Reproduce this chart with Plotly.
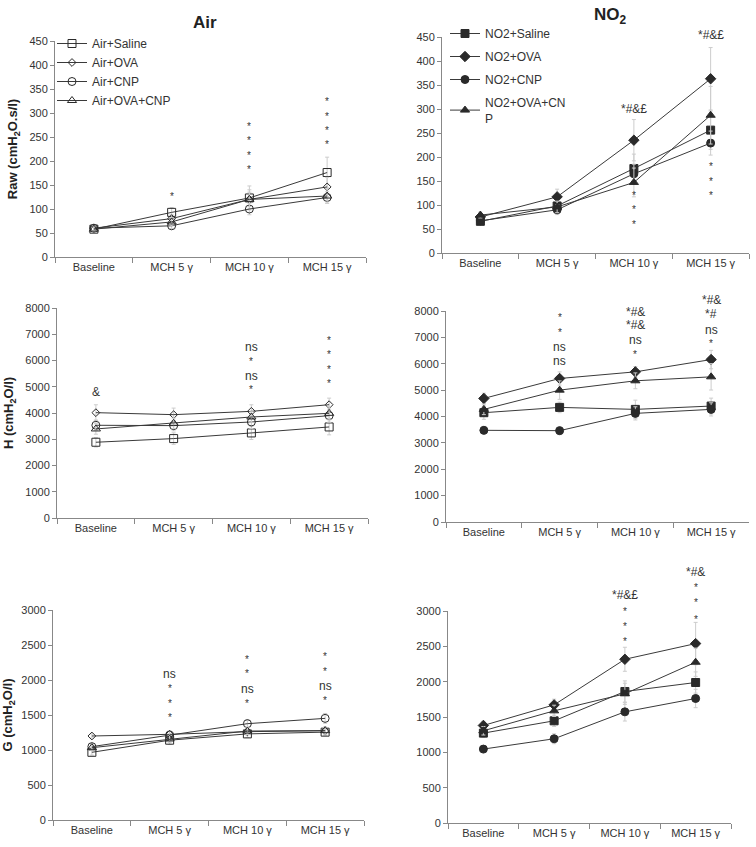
import plotly.graph_objects as go

categories = ["Baseline", "MCH 5 γ", "MCH 10 γ", "MCH 15 γ"]

air_names = ["Air+Saline", "Air+OVA", "Air+CNP", "Air+OVA+CNP"]
no2_names = ["NO2+Saline", "NO2+OVA", "NO2+CNP", "NO2+OVA+CN<br>P"]

# Raw (cmH2O.s/l)
raw_air = [
    [58, 93, 123, 176],
    [60, 80, 120, 146],
    [60, 65, 100, 124],
    [58, 73, 120, 127],
]
raw_air_err = [
    [5, 10, 25, 32],
    [5, 8, 20, 20],
    [5, 6, 12, 12],
    [5, 8, 15, 15],
]
raw_no2 = [
    [66, 98, 176, 256],
    [75, 117, 235, 363],
    [67, 90, 165, 229],
    [79, 96, 147, 287],
]
raw_no2_err = [
    [5, 10, 30, 40],
    [6, 16, 43, 65],
    [5, 10, 20, 25],
    [6, 12, 30, 60],
]

# H (cmH2O/l)
h_air = [
    [2886, 3025, 3240, 3468],
    [4013, 3937, 4063, 4316],
    [3532, 3519, 3658, 3899],
    [3392, 3608, 3848, 3987],
]
h_air_err = [
    [180, 220, 250, 300],
    [300, 250, 250, 250],
    [200, 200, 250, 250],
    [200, 200, 200, 250],
]
h_no2 = [
    [4144, 4345, 4270, 4396],
    [4685, 5441, 5693, 6159],
    [3476, 3463, 4118, 4270],
    [4270, 5000, 5353, 5504],
]
h_no2_err = [
    [250, 200, 350, 300],
    [200, 250, 200, 350],
    [150, 150, 250, 250],
    [200, 350, 300, 500],
]

# G (cmH2O/l)
g_air = [
    [967, 1140, 1230, 1255],
    [1200, 1224, 1262, 1276],
    [1048, 1214, 1376, 1452],
    [1033, 1157, 1271, 1276],
]
g_air_err = [
    [40, 60, 50, 50],
    [30, 50, 50, 50],
    [40, 50, 60, 70],
    [40, 50, 50, 50],
]
g_no2 = [
    [1272, 1446, 1861, 1988],
    [1380, 1672, 2317, 2539],
    [1046, 1192, 1573, 1762],
    [1305, 1587, 1828, 2275],
]
g_no2_err = [
    [60, 80, 150, 150],
    [60, 80, 170, 300],
    [50, 70, 130, 130],
    [60, 80, 150, 200],
]

# significance labels: (category index, y value, label)
raw_air_sig = [(1, 132, "*"), (2, 278, "*"), (2, 248, "*"), (2, 218, "*"), (2, 188, "*"),
               (3, 330, "*"), (3, 300, "*"), (3, 270, "*"), (3, 240, "*")]
raw_no2_sig = [(2, 299, "*#&£"), (2, 126, "*"), (2, 96, "*"), (2, 66, "*"),
               (3, 455, "*#&£"), (3, 187, "*"), (3, 155, "*"), (3, 126, "*")]
h_air_sig = [(0, 4810, "&"), (2, 6519, "ns"), (2, 6076, "*"), (2, 5405, "ns"), (2, 5000, "*"),
             (3, 6873, "*"), (3, 6329, "*"), (3, 5785, "*"), (3, 5253, "*")]
h_no2_sig = [(1, 7860, "*"), (1, 7292, "*"), (1, 6637, "ns"), (1, 6108, "ns"),
             (2, 7962, "*#&"), (2, 7458, "*#&"), (2, 6889, "ns"), (2, 6448, "*"),
             (3, 8428, "*#&"), (3, 7899, "*#"), (3, 7292, "ns"), (3, 6889, "*")]
g_air_sig = [(1, 2081, "ns"), (1, 1919, "*"), (1, 1714, "*"), (1, 1514, "*"),
             (2, 2333, "*"), (2, 2129, "*"), (2, 1871, "ns"), (2, 1705, "*"),
             (3, 2376, "*"), (3, 2167, "*"), (3, 1914, "ns"), (3, 1752, "*")]
g_no2_sig = [(2, 3227, "*#&£"), (2, 3038, "*"), (2, 2826, "*"), (2, 2614, "*"),
             (3, 3556, "*#&"), (3, 3368, "*"), (3, 3156, "*"), (3, 2929, "*")]

air_symbols = ["square-open", "diamond-open", "circle-open", "triangle-up-open"]
air_sizes = [8, 6, 8, 8]
no2_symbols = ["square", "diamond", "circle", "triangle-up"]
no2_sizes = [8, 8, 8, 8]

W, H = 756, 847
def dx(a, b):
    return [a / W, b / W]
def dy(top, bottom):
    return [1 - bottom / H, 1 - top / H]

FONT = "Liberation Sans, Arial, sans-serif"

panels = [
    ("", raw_air, raw_air_err, raw_air_sig, air_names, air_symbols, air_sizes, dx(55, 366), dy(41, 257), [0, 450], 50, "Raw (cmH<sub>2</sub>O.s/l)", "legend"),
    ("2", raw_no2, raw_no2_err, raw_no2_sig, no2_names, no2_symbols, no2_sizes, dx(442, 749), dy(37, 253), [0, 450], 50, None, "legend2"),
    ("3", h_air, h_air_err, h_air_sig, air_names, air_symbols, air_sizes, dx(57, 368), dy(308, 518), [0, 8000], 1000, "H (cmH<sub>2</sub>O/l)", None),
    ("4", h_no2, h_no2_err, h_no2_sig, no2_names, no2_symbols, no2_sizes, dx(446, 749), dy(311, 522), [0, 8000], 1000, None, None),
    ("5", g_air, g_air_err, g_air_sig, air_names, air_symbols, air_sizes, dx(53, 364), dy(610, 820), [0, 3000], 500, "G (cmH<sub>2</sub>O/l)", None),
    ("6", g_no2, g_no2_err, g_no2_sig, no2_names, no2_symbols, no2_sizes, dx(448, 731), dy(611, 823), [0, 3000], 500, None, None),
]

fig = go.Figure()
layout = {}
annotations = []
axis_color = "#888888"
tick_font = dict(family=FONT, size=11, color="#333333")

for pid, data, err, sig, names, symbols, sizes, xdom, ydom, yrange, dtick, ytitle, leg in panels:
    xa = "x" + pid
    ya = "y" + pid
    for i in range(4):
        tr = dict(
            x=categories, y=data[i], xaxis=xa, yaxis=ya,
            mode="lines+markers", name=names[i],
            line=dict(color="#3a3a3a", width=1),
            marker=dict(symbol=symbols[i], size=sizes[i], color="#2a2a2a",
                        line=dict(color="#2a2a2a", width=1)),
            error_y=dict(type="data", array=err[i], arrayminus=err[i], color="#cccccc",
                         thickness=1, width=2),
            showlegend=leg is not None, legendgroup=names[i] + pid,
        )
        if leg is not None:
            tr["legend"] = leg
        fig.add_trace(go.Scatter(**tr))
    for ci, yv, label in sig:
        star = set(label) == {"*"}
        annotations.append(dict(
            x=categories[ci], y=yv / yrange[1], xref=xa, yref=ya + " domain", text=label,
            showarrow=False, xanchor="center", yanchor="middle", yshift=-3 if star else 0,
            font=dict(family=FONT, size=10 if star else 12, color="#333333"),
        ))
    layout["xaxis" + pid] = dict(
        domain=xdom, anchor=ya, type="category", categoryarray=categories, categoryorder="array",
        range=[-0.5, 3.5], tickson="boundaries", ticks="outside", ticklen=5, tickcolor=axis_color,
        showline=True, linecolor=axis_color, linewidth=1, showgrid=False, zeroline=False,
        tickfont=tick_font, fixedrange=True, automargin=False,
    )
    ydict = dict(
        domain=ydom, anchor=xa, range=yrange, dtick=dtick, ticks="outside", ticklen=4,
        tickcolor=axis_color, showline=True, linecolor=axis_color, linewidth=1,
        showgrid=False, zeroline=False, tickfont=tick_font, fixedrange=True, automargin=False,
    )
    if ytitle:
        ydict["title"] = dict(text="<b>" + ytitle + "</b>", standoff=8,
                              font=dict(family=FONT, size=13, color="#222222"))
    layout["yaxis" + pid] = ydict

legend_font = dict(family=FONT, size=12, color="#333333")
layout["legend"] = dict(x=52 / W, y=1 - 29 / H, xanchor="left", yanchor="top",
                        font=legend_font, bgcolor="rgba(0,0,0,0)", tracegroupgap=0,
                        itemwidth=30)
layout["legend2"] = dict(x=445 / W, y=1 - 19 / H, xanchor="left", yanchor="top",
                         font=legend_font, bgcolor="rgba(0,0,0,0)", tracegroupgap=4,
                         itemwidth=30)

annotations += [
    dict(text="<b>Air</b>", x=205 / W, y=1 - 22 / H, xref="paper", yref="paper",
         xanchor="center", yanchor="middle",
         showarrow=False, font=dict(family=FONT, size=17, color="#222222")),
    dict(text="<b>NO<sub>2</sub></b>", x=610 / W, y=1 - 16 / H, xref="paper", yref="paper",
         xanchor="center", yanchor="middle",
         showarrow=False, font=dict(family=FONT, size=17, color="#222222")),
]

fig.update_layout(
    **layout,
    width=W, height=H,
    margin=dict(l=0, r=0, t=0, b=0, pad=0, autoexpand=False),
    paper_bgcolor="white", plot_bgcolor="white",
    showlegend=True,
    annotations=annotations,
)

fig.write_html("out.html", config={"displayModeBar": False},
               post_script="document.body.style.margin='0px';document.body.style.padding='0px';")
